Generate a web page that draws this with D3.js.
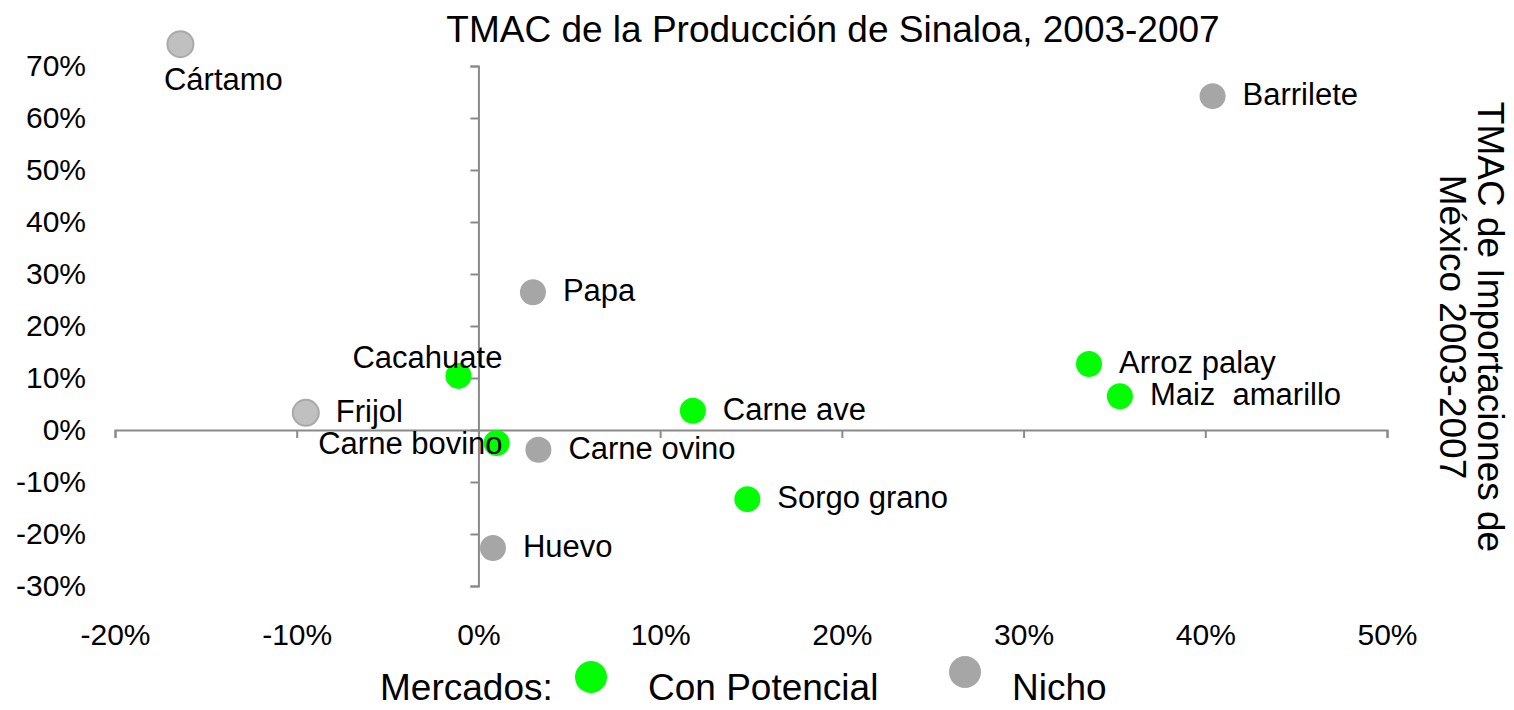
<!DOCTYPE html>
<html>
<head>
<meta charset="utf-8">
<script src="https://cdn.jsdelivr.net/npm/d3@7"></script>
<style>
  html, body { margin: 0; padding: 0; background: #fff; }
  svg { display: block; font-family: "Liberation Sans", Arial, sans-serif; }
</style>
</head>
<body>
<svg id="chart" width="1514" height="710"></svg>
<script>
// ---- Data ----
const products = ["Cártamo", "Barrilete", "Papa", "Cacahuate", "Frijol", "Carne bovino", "Carne ovino", "Carne ave", "Sorgo grano", "Huevo", "Arroz palay", "Maiz  amarillo"];
const tmacProduccion = [-0.164, 0.404, 0.030, -0.011, -0.095, 0.010, 0.033, 0.118, 0.148, 0.008, 0.336, 0.353];
const tmacImportaciones = [0.742, 0.642, 0.265, 0.104, 0.033, -0.025, -0.038, 0.037, -0.133, -0.227, 0.127, 0.065];
const mercado = ["nicho-claro", "nicho", "nicho", "potencial", "nicho-claro", "potencial", "nicho", "potencial", "potencial", "nicho", "potencial", "potencial"];
const labelSide = ["below", "right", "right", "above", "right", "left", "right", "right", "right", "right", "right", "right"];
const xTicks = [-0.2, -0.1, 0, 0.1, 0.2, 0.3, 0.4, 0.5];
const yTicks = [-0.3, -0.2, -0.1, 0, 0.1, 0.2, 0.3, 0.4, 0.5, 0.6, 0.7];
const legendItems = ["Con Potencial", "Nicho"];
const legendTypes = ["potencial", "nicho"];

// ---- Styles ----
const fillOf = { "potencial": "#00ff00", "nicho": "#a6a6a6", "nicho-claro": "#c0c0c0" };
const strokeOf = { "potencial": "none", "nicho": "none", "nicho-claro": "#a9a9a9" };
const axisColor = "#8a8a8a";

const svg = d3.select("#chart");
const x = d3.scaleLinear().domain([-0.2, 0.5]).range([115, 1387]);
const y = d3.scaleLinear().domain([-0.3, 0.7]).range([586, 66]);
const pct = v => Math.round(v * 100) + "%";

// Title
svg.append("text")
  .attr("x", 833).attr("y", 42)
  .attr("text-anchor", "middle")
  .attr("font-size", 37)
  .text("TMAC de la Producción de Sinaloa, 2003-2007");

// Y axis line & ticks at x = 0
const yAxisG = svg.append("g")
  .attr("transform", `translate(${x(0)},0)`)
  .call(d3.axisLeft(y).tickValues(yTicks).tickSize(8).tickFormat(""));
// X axis line & ticks at y = 0
const xAxisG = svg.append("g")
  .attr("transform", `translate(0,${y(0)})`)
  .call(d3.axisBottom(x).tickValues(xTicks).tickSize(8).tickFormat(""));
[yAxisG, xAxisG].forEach(g => {
  g.selectAll("path, line").attr("stroke", axisColor).attr("stroke-width", 2);
});

// Y tick labels (low position)
const yLab = svg.append("g")
  .attr("transform", `translate(92,0)`)
  .call(d3.axisLeft(y).tickValues(yTicks).tickSize(0).tickPadding(6).tickFormat(pct));
yLab.select(".domain").remove();
yLab.selectAll("text").attr("font-size", 30).attr("font-family", "Liberation Sans, Arial, sans-serif").attr("fill", "#000");

// X tick labels (low position)
const xLab = svg.append("g")
  .attr("transform", `translate(0,618)`)
  .call(d3.axisBottom(x).tickValues(xTicks).tickSize(0).tickPadding(6).tickFormat(pct));
xLab.select(".domain").remove();
xLab.selectAll("text").attr("font-size", 30).attr("font-family", "Liberation Sans, Arial, sans-serif").attr("fill", "#000");

// Right axis title (rotated)
const rt = svg.append("text")
  .attr("transform", `translate(1478,327) rotate(90)`)
  .attr("text-anchor", "middle")
  .attr("font-size", 37);
rt.append("tspan").attr("x", 0).attr("dy", 0).text("TMAC de Importaciones de");
rt.append("tspan").attr("x", 0).attr("dy", 38).text("México 2003-2007");

// Points
const data = products.map((p, i) => ({
  name: p, px: tmacProduccion[i], py: tmacImportaciones[i], type: mercado[i], side: labelSide[i]
}));

svg.append("g").selectAll("circle")
  .data(data).join("circle")
  .attr("cx", d => x(d.px))
  .attr("cy", d => y(d.py))
  .attr("r", 13)
  .attr("fill", d => fillOf[d.type])
  .attr("stroke", d => strokeOf[d.type])
  .attr("stroke-width", 2);

// Labels
svg.append("g").selectAll("text")
  .data(data).join("text")
  .attr("font-size", 31)
  .attr("xml:space", "preserve")
  .style("white-space", "pre")
  .attr("x", d => {
    const cx = x(d.px);
    if (d.side === "right") return cx + 30;
    if (d.side === "left") return cx + 6;
    if (d.side === "above") return cx - 31;
    return cx + 43;
  })
  .attr("y", d => {
    const cy = y(d.py);
    if (d.side === "above") return cy - 8;
    if (d.side === "below") return cy + 46;
    if (d.side === "left") return cy + 11;
    return cy + 9;
  })
  .attr("text-anchor", d => d.side === "right" ? "start" : (d.side === "left" ? "end" : "middle"))
  .text(d => d.name);

// Legend
svg.append("text")
  .attr("x", 380).attr("y", 700)
  .attr("font-size", 37)
  .text("Mercados:");
const legX = [591, 965];
const legY = [677, 672];
const legTextX = [648, 1012];
legendItems.forEach((t, i) => {
  svg.append("ellipse")
    .attr("cx", legX[i]).attr("cy", legY[i])
    .attr("rx", 16).attr("ry", 16)
    .attr("fill", fillOf[legendTypes[i]]);
  svg.append("text")
    .attr("x", legTextX[i]).attr("y", 700)
    .attr("font-size", 37)
    .text(t);
});
</script>
</body>
</html>
